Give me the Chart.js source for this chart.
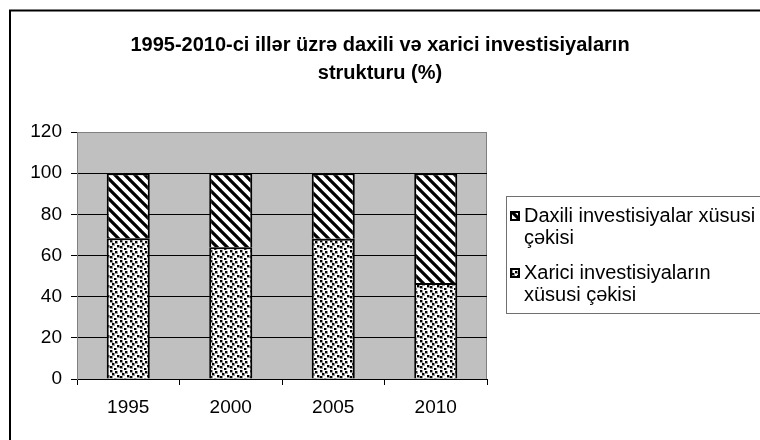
<!DOCTYPE html>
<html>
<head>
<meta charset="utf-8">
<script src="https://cdn.jsdelivr.net/npm/chart.js@4/dist/chart.umd.min.js"></script>
<style>
    body { margin: 0; background: #fff; }
    canvas { display: block; }
</style>
</head>
<body>
<canvas id="investChart" width="760" height="440"></canvas>
<script>
// 데이터
const years = ['1995', '2000', '2005', '2010'];
const xariciShare = [68.4, 64.0, 68.1, 46.6];
const daxiliShare = [31.6, 36.0, 31.9, 53.4];
const yTicks = [0, 20, 40, 60, 80, 100, 120];
const chartTitle = ['1995-2010-ci illər üzrə daxili və xarici investisiyaların', 'strukturu (%)'];
const seriesNames = ['Xarici investisiyaların xüsusi çəkisi', 'Daxili investisiyalar xüsusi çəkisi'];

const FONT = "'Liberation Sans', Arial, sans-serif";
Chart.defaults.font.family = FONT;
Chart.defaults.color = '#000';

const canvas = document.getElementById('investChart');
const ctx = canvas.getContext('2d');

// 점무늬 패턴
function makeDots() {
    const tile = document.createElement('canvas');
    tile.width = 10; tile.height = 10;
    const g = tile.getContext('2d');
    g.fillStyle = '#fff';
    g.fillRect(0, 0, 10, 10);
    const spots = [[0, 0], [5, 1], [2, 3], [7, 5], [0, 6], [4, 8]];
    g.fillStyle = 'rgba(0,0,0,0.4)';
    spots.forEach(p => g.fillRect(p[0], p[1], 3, 3));
    g.fillStyle = '#000';
    spots.forEach(p => g.fillRect(p[0], p[1], 2, 2));
    return ctx.createPattern(tile, 'repeat');
}

// 사선 패턴 (\\\)
function makeStripes() {
    const tile = document.createElement('canvas');
    tile.width = 10; tile.height = 10;
    const g = tile.getContext('2d');
    g.fillStyle = '#fff';
    g.fillRect(0, 0, 10, 10);
    g.strokeStyle = '#000';
    g.lineWidth = 3.2;
    g.beginPath();
    [-10, 0, 10].forEach(o => {
        g.moveTo(o - 1, -1);
        g.lineTo(o + 11, 11);
    });
    g.stroke();
    return ctx.createPattern(tile, 'repeat');
}

const dots = makeDots();
const stripes = makeStripes();

// 배경, 테두리
const frame = {
    id: 'frame',
    beforeDraw(chart) {
        const c = chart.ctx;
        const a = chart.chartArea;
        c.save();
        c.fillStyle = '#fff';
        c.fillRect(0, 0, chart.width, chart.height);
        c.strokeStyle = '#000';
        c.lineWidth = 2;
        c.strokeRect(10, 10.5, 800, 500);
        c.fillStyle = '#c0c0c0';
        c.fillRect(a.left, a.top, a.right - a.left, a.bottom - a.top);
        c.strokeStyle = '#808080';
        c.lineWidth = 1;
        c.strokeRect(a.left + 0.5, a.top + 0.5, a.right - a.left - 1, a.bottom - a.top);
        c.restore();
    }
};

// 범례 (오른쪽 박스)
const sideLegend = {
    id: 'sideLegend',
    afterDraw(chart) {
        const c = chart.ctx;
        const boxX = 506.5, boxY = 196.5, boxH = 117;
        c.save();
        c.fillStyle = '#fff';
        c.fillRect(boxX, boxY, 300, boxH);
        c.strokeStyle = '#707070';
        c.lineWidth = 1;
        c.strokeRect(boxX, boxY, 300, boxH);
        c.font = '20px ' + FONT;
        c.textBaseline = 'middle';
        c.fillStyle = '#000';
        const sets = chart.data.datasets.slice().reverse();
        let y = 216.5;
        sets.forEach(ds => {
            // 줄바꿈
            const words = ds.label.split(' ');
            const lines = [];
            let cur = '';
            words.forEach(w => {
                const t = cur ? cur + ' ' + w : w;
                if (c.measureText(t).width > 236 && cur) {
                    lines.push(cur);
                    cur = w;
                } else {
                    cur = t;
                }
            });
            lines.push(cur);

            c.fillStyle = ds.backgroundColor;
            c.fillRect(511, y - 4.5, 8, 8);
            c.strokeStyle = '#000';
            c.lineWidth = 2;
            c.strokeRect(511, y - 4.5, 8, 8);
            c.fillStyle = '#000';
            lines.forEach((ln, i) => c.fillText(ln, 524, y + i * 21.5));
            y += 57;
        });
        c.restore();
    }
};

new Chart(ctx, {
    type: 'bar',
    data: {
        labels: years,
        datasets: [{
            label: seriesNames[0],
            data: xariciShare,
            backgroundColor: dots,
            borderColor: '#000',
            borderWidth: 2,
            barPercentage: 0.42,
            categoryPercentage: 1
        }, {
            label: seriesNames[1],
            data: daxiliShare,
            backgroundColor: stripes,
            borderColor: '#000',
            borderWidth: 2,
            barPercentage: 0.42,
            categoryPercentage: 1
        }]
    },
    options: {
        responsive: false,
        animation: false,
        layout: { padding: 0 },
        scales: {
            x: {
                stacked: true,
                afterFit: s => { s.height = 61; },
                grid: {
                    offset: true,
                    drawOnChartArea: false,
                    drawTicks: true,
                    tickLength: 6,
                    tickColor: '#000'
                },
                border: { color: '#000', width: 1 },
                ticks: { font: { size: 19 }, padding: 11, color: '#000' }
            },
            y: {
                stacked: true,
                min: 0,
                max: 120,
                afterFit: s => { s.width = 77; },
                afterBuildTicks: s => { s.ticks = yTicks.map(v => ({ value: v })); },
                grid: {
                    color: c => (c.tick && c.tick.value === 120) ? '#808080' : '#000',
                    tickColor: '#000',
                    tickLength: 6
                },
                border: { color: '#808080' },
                ticks: { font: { size: 19 }, padding: 9, color: '#000' }
            },
            // 범례 자리 (오른쪽 여백)
            side: {
                type: 'linear',
                position: 'right',
                afterFit: s => { s.width = 273; },
                grid: { display: false },
                border: { display: false },
                ticks: { display: false }
            }
        },
        plugins: {
            legend: { display: false },
            tooltip: { enabled: false },
            title: {
                display: true,
                text: chartTitle,
                color: '#000',
                font: { size: 20, weight: 'bold', lineHeight: 1.4 },
                padding: { top: 31, bottom: 45 }
            }
        }
    },
    plugins: [frame, sideLegend]
});
</script>
</body>
</html>
